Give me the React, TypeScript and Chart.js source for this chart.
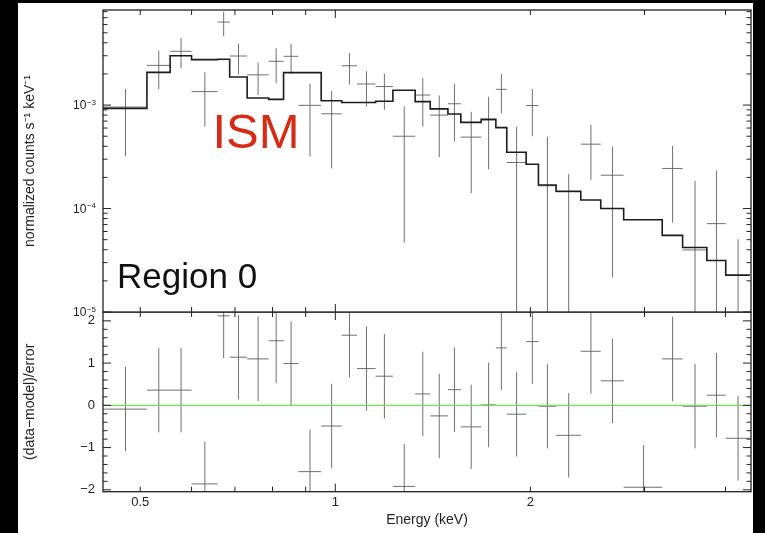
import React, { useEffect, useRef } from 'react';
import Chart from 'chart.js/auto';

const FONT = '"Liberation Sans", Arial, Helvetica, sans-serif';

// axis ranges
const X_MIN = 0.438;
const X_MAX = 4.38;
const Y_MIN = 1e-5;
const Y_MAX = 8.3e-3;
const R_MIN = -2.045;
const R_MAX = 2.21;

// energy bin edges (keV), 32 bins
const binEdges = [0.437, 0.512, 0.556, 0.6, 0.658, 0.687, 0.731, 0.789, 0.832, 0.877, 0.951, 1.023, 1.08, 1.154, 1.227, 1.328, 1.401, 1.492, 1.562, 1.679, 1.769, 1.839, 1.97, 2.058, 2.191, 2.392, 2.568, 2.786, 3.195, 3.435, 3.744, 4.004, 4.362];

// normalized counts s^-1 keV^-1 (data), null = below the axis
const countRate = [9.57e-4, 2.42e-3, 3.31e-3, 1.35e-3, 6.35e-3, 2.98e-3, 1.96e-3, 2.65e-3, 2.96e-3, 9.94e-4, 8.24e-4, 2.4e-3, 1.6e-3, 1.51e-3, 5.0e-4, 1.25e-3, 8.0e-4, 1.03e-3, 4.9e-4, 7.2e-4, 1.42e-3, 2.79e-4, 9.9e-4, 1.66e-4, 1.45e-4, 4.19e-4, 2.1e-4, null, 2.44e-4, 3.98e-5, 7.15e-5, null];
const countErrHi = [1.43e-3, 3.36e-3, 4.43e-3, 2.07e-3, 8.0e-3, 3.92e-3, 2.58e-3, 3.54e-3, 3.89e-3, 1.61e-3, 1.37e-3, 3.18e-3, 2.12e-3, 2.02e-3, 9.7e-4, 1.82e-3, 1.24e-3, 1.61e-3, 8.6e-4, 1.2e-3, 2.0e-3, 6.17e-4, 1.43e-3, 4.94e-4, 2.15e-4, 6.45e-4, 3.98e-4, null, 4.04e-4, 1.85e-4, 2.33e-4, 5.05e-5];
const countErrLo = [3.23e-4, 1.43e-3, 2.26e-3, 6.2e-4, 4.63e-3, 1.98e-3, 1.25e-3, 1.63e-3, 2.0e-3, 3.18e-4, 2.44e-4, 1.58e-3, 9.7e-4, 9.0e-4, 4.7e-5, 6.2e-4, 3.14e-4, 4.45e-4, 1.41e-4, 2.4e-4, 8.3e-4, 1e-6, 5.0e-4, 1e-6, 1e-6, 1.89e-4, 2.15e-5, null, 7.3e-5, 1e-6, 1e-6, 1e-6];

// folded model (step histogram)
const modelRate = [9.3e-4, 2.07e-3, 3.0e-3, 2.75e-3, 2.77e-3, 1.87e-3, 1.17e-3, 1.135e-3, 2.06e-3, 2.06e-3, 1.1e-3, 1.06e-3, 1.06e-3, 1.09e-3, 1.39e-3, 1.08e-3, 9.2e-4, 8.2e-4, 6.8e-4, 7.27e-4, 6.05e-4, 3.5e-4, 2.68e-4, 1.69e-4, 1.47e-4, 1.21e-4, 1.0e-4, 7.8e-5, 5.5e-5, 4.2e-5, 3.15e-5, 2.27e-5];

// residuals (data-model)/error
const residual = [-0.09, 0.36, 0.36, -1.86, 2.12, 1.14, 1.1, 1.53, 0.99, -1.57, -0.49, 1.66, 0.87, 0.69, -1.92, 0.27, -0.25, 0.37, -0.51, 0.01, 1.36, -0.21, 1.51, -0.02, -0.71, 1.28, 0.58, -1.94, 1.1, -0.02, 0.24, -0.78];
const residualErr = [1, 1, 1, 1, 1, 1, 1, 1, 1, 1, 1, 1, 1, 1, 1, 1, 1, 1, 1, 1, 1, 1, 1, 1, 1, 1, 1, 1, 1, 1, 1, 1];

// ticks
const xLabelTicks = [0.5, 1, 2];
const xLabelText = ['0.5', '1', '2'];
const xMinorTicks = [0.5, 0.6, 0.7, 0.8, 0.9, 2, 3, 4];
const xMajorTicks = [1];
const yDecadeTicks = [1e-5, 1e-4, 1e-3];
const yDecadeExp = ['−5', '−4', '−3'];
const yMinorTicks = [2e-5, 3e-5, 4e-5, 5e-5, 6e-5, 7e-5, 8e-5, 9e-5, 2e-4, 3e-4, 4e-4, 5e-4, 6e-4, 7e-4, 8e-4, 9e-4, 2e-3, 3e-3, 4e-3, 5e-3, 6e-3, 7e-3, 8e-3];
const resLabelTicks = [-2, -1, 0, 1, 2];
const resLabelText = ['−2', '−1', '0', '1', '2'];
const resMinorTicks = [-1.8, -1.6, -1.4, -1.2, -0.8, -0.6, -0.4, -0.2, 0.2, 0.4, 0.6, 0.8, 1.2, 1.4, 1.6, 1.8];

const DATA_COLOR = 'rgba(95,95,95,0.9)';
const MODEL_COLOR = '#1c1c1c';
const ZERO_COLOR = 'rgb(118,222,88)';
const FRAME_COLOR = '#222';
const TEXT_COLOR = '#222';

function binCenter(i: number) {
  return (binEdges[i] + binEdges[i + 1]) / 2;
}

function modelPoints() {
  const pts: any[] = [];
  for (let i = 0; i < modelRate.length; i++) pts.push({ x: binEdges[i], y: modelRate[i] });
  pts.push({ x: binEdges[binEdges.length - 1], y: modelRate[modelRate.length - 1] });
  return pts;
}

function spectrumCrosses() {
  const pts: any[] = [];
  for (let i = 0; i < countRate.length; i++) {
    const c = binCenter(i);
    const v = countRate[i];
    if (v !== null) {
      pts.push({ x: binEdges[i], y: v }, { x: binEdges[i + 1], y: v }, { x: c, y: null });
    }
    if (countErrHi[i] !== null && countErrLo[i] !== null) {
      pts.push({ x: c, y: countErrLo[i] }, { x: c, y: countErrHi[i] }, { x: c, y: null });
    }
  }
  return pts;
}

function residualCrosses() {
  const pts: any[] = [];
  for (let i = 0; i < residual.length; i++) {
    const c = binCenter(i);
    const r = residual[i];
    const e = residualErr[i];
    pts.push({ x: binEdges[i], y: r }, { x: binEdges[i + 1], y: r }, { x: c, y: null });
    pts.push({ x: c, y: r - e }, { x: c, y: r + e }, { x: c, y: null });
  }
  return pts;
}

function line(ctx: CanvasRenderingContext2D, x1: number, y1: number, x2: number, y2: number) {
  ctx.beginPath();
  ctx.moveTo(x1, y1);
  ctx.lineTo(x2, y2);
  ctx.stroke();
}

function drawXTicks(chart: any) {
  const { ctx, chartArea: a } = chart;
  const xs = chart.scales.x;
  const all = [
    ...xMinorTicks.map((v) => [v, 5]),
    ...xMajorTicks.map((v) => [v, 8]),
  ];
  for (const [v, len] of all) {
    const px = xs.getPixelForValue(v);
    line(ctx, px, a.top, px, a.top + len);
    line(ctx, px, a.bottom, px, a.bottom - len);
  }
}

function drawYTicks(chart: any, majors: number[], minors: number[]) {
  const { ctx, chartArea: a } = chart;
  const ys = chart.scales.y;
  const all = [...majors.map((v) => [v, 8]), ...minors.map((v) => [v, 4.5])];
  for (const [v, len] of all) {
    const py = ys.getPixelForValue(v);
    line(ctx, a.left, py, a.left + len, py);
    line(ctx, a.right, py, a.right - len, py);
  }
}

const topPlugin = {
  id: 'topPanel',
  beforeDraw(chart: any) {
    const { ctx, chartArea: a } = chart;
    ctx.save();
    ctx.fillStyle = '#000';
    ctx.fillRect(0, 0, chart.width, a.bottom);
    ctx.fillStyle = '#fff';
    ctx.fillRect(18, 3, 735, a.bottom - 3);
    ctx.restore();
  },
  afterDraw(chart: any) {
    const { ctx, chartArea: a } = chart;
    const ys = chart.scales.y;
    ctx.save();
    ctx.strokeStyle = FRAME_COLOR;
    ctx.lineWidth = 1.3;
    ctx.strokeRect(a.left, a.top, a.right - a.left, a.bottom - a.top);
    ctx.lineWidth = 1;
    drawXTicks(chart);
    drawYTicks(chart, yDecadeTicks, yMinorTicks);
    // decade labels 10^n
    ctx.fillStyle = TEXT_COLOR;
    ctx.textBaseline = 'alphabetic';
    for (let i = 0; i < yDecadeTicks.length; i++) {
      const py = ys.getPixelForValue(yDecadeTicks[i]);
      ctx.font = `8px ${FONT}`;
      const we = ctx.measureText(yDecadeExp[i]).width;
      const right = a.left - 7;
      ctx.textAlign = 'left';
      ctx.fillText(yDecadeExp[i], right - we, py - 0.5);
      ctx.font = `12px ${FONT}`;
      ctx.textAlign = 'right';
      ctx.fillText('10', right - we - 0.5, py + 4.3);
    }
    // annotations
    ctx.textAlign = 'left';
    ctx.fillStyle = '#d42c17';
    ctx.font = `49px ${FONT}`;
    ctx.fillText('ISM', 212.5, 148);
    ctx.fillStyle = '#111';
    ctx.font = `35px ${FONT}`;
    ctx.fillText('Region 0', 117, 288);
    ctx.restore();
  },
};

const bottomPlugin = {
  id: 'bottomPanel',
  beforeDraw(chart: any) {
    const { ctx } = chart;
    ctx.save();
    ctx.fillStyle = '#000';
    ctx.fillRect(0, 0, chart.width, chart.height);
    ctx.fillStyle = '#fff';
    ctx.fillRect(18, 0, 735, chart.height);
    ctx.restore();
  },
  afterDraw(chart: any) {
    const { ctx, chartArea: a } = chart;
    ctx.save();
    ctx.strokeStyle = FRAME_COLOR;
    ctx.lineWidth = 1.3;
    ctx.strokeRect(a.left, a.top, a.right - a.left, a.bottom - a.top);
    ctx.lineWidth = 1;
    drawXTicks(chart);
    drawYTicks(chart, resLabelTicks, resMinorTicks);
    ctx.restore();
  },
};

function topConfig(): any {
  return {
    type: 'line',
    data: {
      datasets: [
        {
          label: 'model',
          data: modelPoints(),
          stepped: true,
          borderColor: MODEL_COLOR,
          borderWidth: 1.6,
          pointRadius: 0,
          pointHoverRadius: 0,
          fill: false,
        },
        {
          label: 'data',
          data: spectrumCrosses(),
          borderColor: DATA_COLOR,
          borderWidth: 1,
          pointRadius: 0,
          pointHoverRadius: 0,
          spanGaps: false,
          fill: false,
        },
      ],
    },
    options: {
      animation: false,
      responsive: false,
      devicePixelRatio: 1,
      events: [],
      layout: { padding: { left: 0, right: 14, top: 10, bottom: 18 }, autoPadding: false },
      plugins: { legend: { display: false }, tooltip: { enabled: false } },
      scales: {
        x: {
          type: 'logarithmic',
          min: X_MIN,
          max: X_MAX,
          bounds: 'data',
          display: false,
          afterFit(s: any) {
            s.height = 0;
          },
        },
        y: {
          type: 'logarithmic',
          min: Y_MIN,
          max: Y_MAX,
          bounds: 'data',
          position: 'left',
          grid: { display: false, drawTicks: false },
          border: { display: false },
          ticks: { display: false },
          title: {
            display: true,
            text: 'normalized counts s⁻¹ keV⁻¹',
            color: TEXT_COLOR,
            font: { size: 14, family: FONT },
            padding: { top: 21.6, bottom: 0 },
          },
          afterFit(s: any) {
            s.width = 103;
            s.paddingTop = 0;
            s.paddingBottom = 0;
          },
        },
      },
    },
    plugins: [topPlugin],
  };
}

function bottomConfig(): any {
  return {
    type: 'line',
    data: {
      datasets: [
        {
          label: 'zero',
          data: [
            { x: X_MIN, y: 0 },
            { x: X_MAX, y: 0 },
          ],
          borderColor: ZERO_COLOR,
          borderWidth: 1.2,
          pointRadius: 0,
          pointHoverRadius: 0,
          fill: false,
        },
        {
          label: 'residuals',
          data: residualCrosses(),
          borderColor: DATA_COLOR,
          borderWidth: 1,
          pointRadius: 0,
          pointHoverRadius: 0,
          spanGaps: false,
          fill: false,
        },
      ],
    },
    options: {
      animation: false,
      responsive: false,
      devicePixelRatio: 1,
      events: [],
      layout: { padding: { left: 0, right: 14, top: 0, bottom: 0 }, autoPadding: false },
      plugins: { legend: { display: false }, tooltip: { enabled: false } },
      scales: {
        x: {
          type: 'logarithmic',
          min: X_MIN,
          max: X_MAX,
          bounds: 'data',
          position: 'bottom',
          grid: { display: false, drawTicks: false },
          border: { display: false },
          afterBuildTicks(s: any) {
            s.ticks = xLabelTicks.map((v) => ({ value: v }));
          },
          ticks: {
            autoSkip: false,
            maxRotation: 0,
            minRotation: 0,
            padding: 3,
            color: TEXT_COLOR,
            font: { size: 13, family: FONT },
            callback: (v: number) => {
              const i = xLabelTicks.indexOf(v);
              return i >= 0 ? xLabelText[i] : '';
            },
          },
          title: {
            display: true,
            text: 'Energy (keV)',
            color: TEXT_COLOR,
            font: { size: 14, family: FONT },
            padding: { top: 0, bottom: 4.6 },
          },
          afterFit(s: any) {
            s.height = 41.3;
            s.paddingLeft = 0;
            s.paddingRight = 0;
          },
        },
        y: {
          type: 'linear',
          min: R_MIN,
          max: R_MAX,
          bounds: 'data',
          position: 'left',
          grid: { display: false, drawTicks: false },
          border: { display: false },
          afterBuildTicks(s: any) {
            s.ticks = resLabelTicks.map((v) => ({ value: v }));
          },
          ticks: {
            autoSkip: false,
            padding: 8,
            color: TEXT_COLOR,
            font: { size: 13, family: FONT },
            callback: (v: number) => {
              const i = resLabelTicks.indexOf(v);
              return i >= 0 ? resLabelText[i] : '';
            },
          },
          title: {
            display: true,
            text: '(data−model)/error',
            color: TEXT_COLOR,
            font: { size: 14, family: FONT },
            padding: { top: 21.6, bottom: 0 },
          },
          afterFit(s: any) {
            s.width = 103;
            s.paddingTop = 0;
            s.paddingBottom = 0;
          },
        },
      },
    },
    plugins: [bottomPlugin],
  };
}

export default function App() {
  const topRef = useRef<HTMLCanvasElement>(null);
  const botRef = useRef<HTMLCanvasElement>(null);

  useEffect(() => {
    document.body.style.margin = '0';
    document.body.style.background = '#000';
    document.body.style.overflow = 'hidden';
    Chart.defaults.font.family = FONT;
    const bot = new Chart(botRef.current as HTMLCanvasElement, bottomConfig());
    const top = new Chart(topRef.current as HTMLCanvasElement, topConfig());
    return () => {
      top.destroy();
      bot.destroy();
    };
  }, []);

  return (
    <div style={{ position: 'relative', width: 765, height: 533, background: '#000', overflow: 'hidden' }}>
      <canvas
        ref={botRef}
        width={765}
        height={221}
        style={{ position: 'absolute', left: 0, top: 312, width: 765, height: 221, display: 'block', zIndex: 1 }}
      />
      <canvas
        ref={topRef}
        width={765}
        height={330}
        style={{ position: 'absolute', left: 0, top: 0, width: 765, height: 330, display: 'block', zIndex: 2 }}
      />
    </div>
  );
}
